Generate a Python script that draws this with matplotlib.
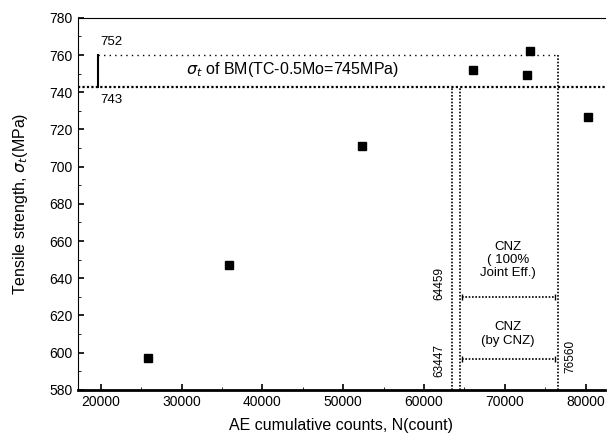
import matplotlib
matplotlib.use('Agg')
import matplotlib.pyplot as plt

# data points
counts = [25820, 35840, 52300, 66040, 72720, 73090, 80270]
strength = [597, 647, 711, 752, 749.5, 762, 726.5]

# reference levels
bm_low = 743
bm_high = 760
cnz_joint = 630
cnz_by = 596.6
x_left1 = 63447
x_left2 = 64459
x_right = 76560

plt.rcParams['font.family'] = ['Liberation Sans', 'DejaVu Sans']

fig = plt.figure(figsize=(6.08, 4.46), dpi=100)
ax = fig.add_axes([0.128, 0.126, 0.867, 0.834])

ax.plot(counts, strength, 's', color='black', markersize=6)

dot = (0, (1, 1))
# BM band
ax.axhline(bm_low, color='black', lw=1.6, ls=dot)
ax.plot([19630, x_right], [bm_high, bm_high], color='black', lw=1, ls=(0, (1, 3)))
ax.plot([19630, 19630], [bm_low, bm_high], color='black', lw=1.5)
ax.text(19880, 767, '752', fontsize=9.5, ha='left', va='center')
ax.text(19880, 736, '743', fontsize=9.5, ha='left', va='center')
ax.text(43760, 752, r'$\sigma_t$ of BM(TC-0.5Mo=745MPa)', fontsize=11.5, ha='center', va='center')

# vertical limits
ax.plot([x_left1, x_left1], [580, bm_low], color='black', lw=1.2, ls=dot)
ax.plot([x_left2, x_left2], [580, bm_low], color='black', lw=1.2, ls=dot)
ax.plot([x_right, x_right], [580, bm_high], color='black', lw=1.2, ls=dot)
ax.text(61960, 637, str(x_left2), fontsize=8.5, rotation=90, ha='center', va='center')
ax.text(61960, 596, str(x_left1), fontsize=8.5, rotation=90, ha='center', va='center')
ax.text(78170, 598, str(x_right), fontsize=8.5, rotation=90, ha='center', va='center')

# CNZ levels
for lvl in [cnz_joint, cnz_by]:
    ax.plot([x_left2 + 200, 76190], [lvl, lvl], color='black', lw=1.2, ls=dot,
            marker='|', markersize=5, markevery=[0, 1])
ax.text(70370, 650, 'CNZ\n( 100%\nJoint Eff.)', fontsize=9.5, ha='center', va='center',
        linespacing=1.1)
ax.text(70370, 610, 'CNZ\n(by CNZ)', fontsize=9.5, ha='center', va='center', linespacing=1.2)

ax.set_xlim(17150, 82400)
ax.set_ylim(580, 780)
ax.set_xticks([20000, 30000, 40000, 50000, 60000, 70000, 80000])
ax.set_xticks([25000, 35000, 45000, 55000, 65000, 75000], minor=True)
ax.set_yticks(range(580, 781, 20))
ax.set_yticks(range(590, 780, 20), minor=True)
ax.tick_params(direction='in', labelsize=10, width=1.2, length=4)
ax.tick_params(which='minor', direction='in', length=2)

ax.spines['right'].set_visible(False)
ax.spines['top'].set_linestyle(dot)
ax.spines['left'].set_linestyle(dot)
ax.spines['bottom'].set_linewidth(2)

ax.set_xlabel('AE cumulative counts, N(count)', fontsize=11.5, labelpad=7)
ax.set_ylabel(r'Tensile strength, $\sigma_t$(MPa)', fontsize=11.5, labelpad=14)

fig.savefig('out.png', dpi=100)
